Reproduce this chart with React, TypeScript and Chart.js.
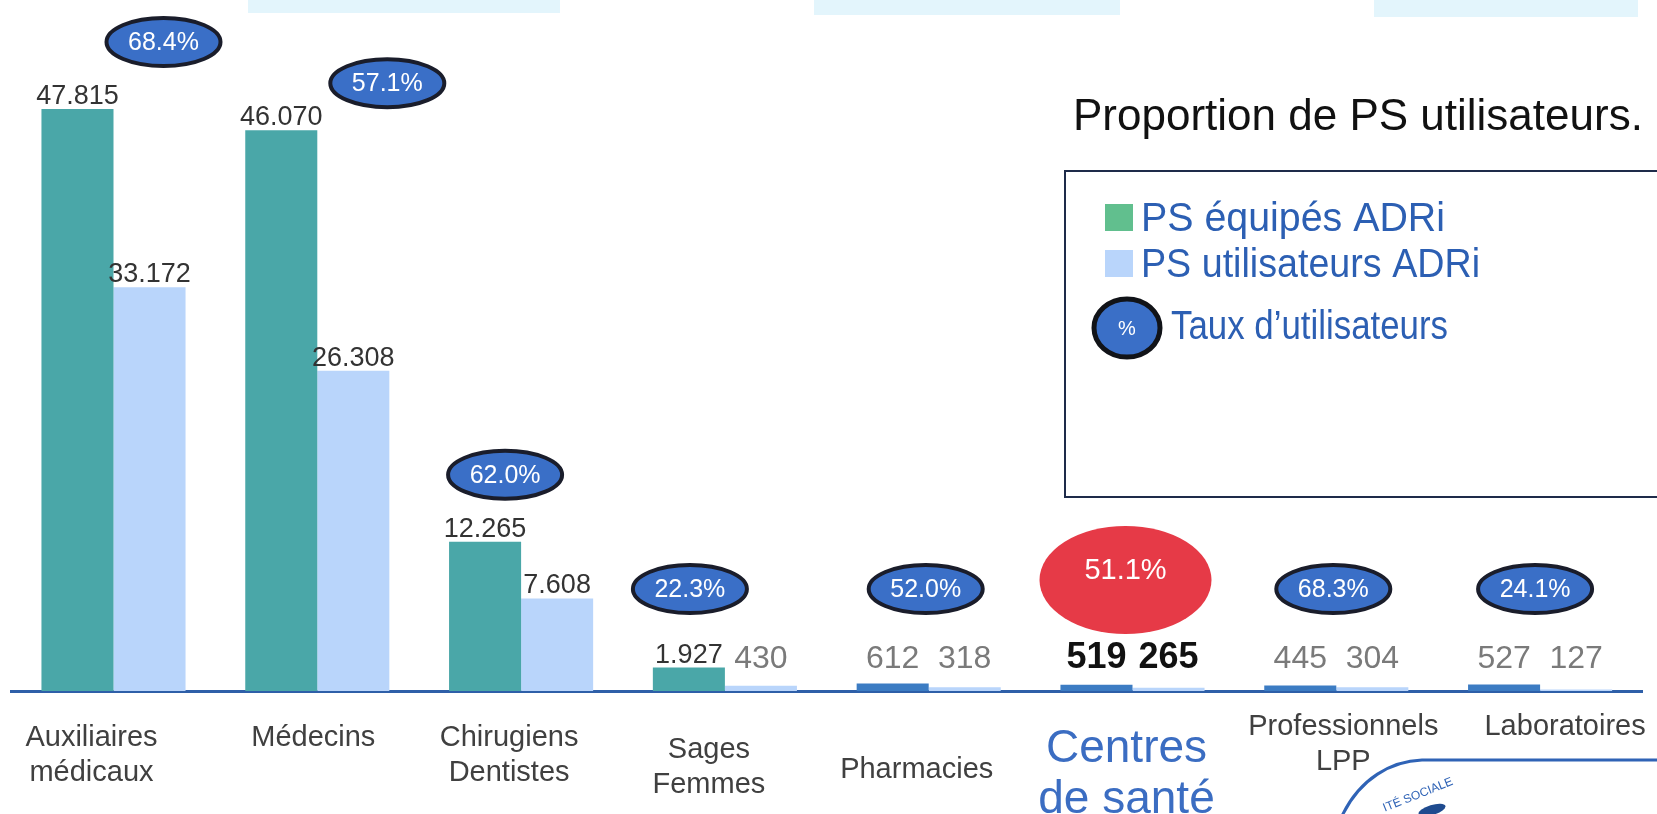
import React, { useEffect, useRef } from 'react';
import { Chart, registerables } from 'chart.js';

Chart.register(...registerables);

// ---------- data ----------
const categories: string[][] = [
  ['Auxiliaires', 'médicaux'],
  ['Médecins'],
  ['Chirugiens', 'Dentistes'],
  ['Sages', 'Femmes'],
  ['Pharmacies'],
  ['Centres', 'de santé'],
  ['Professionnels', 'LPP'],
  ['Laboratoires'],
];
const psEquipes = [47815, 46070, 12265, 1927, 612, 519, 445, 527];
const psUtilisateurs = [33172, 26308, 7608, 430, 318, 265, 304, 127];
const tauxUtilisateurs = [68.4, 57.1, 62.0, 22.3, 52.0, 51.1, 68.3, 24.1];
const seriesLabels = ['PS équipés ADRi', 'PS utilisateurs ADRi'];
const rateLabel = 'Taux d’utilisateurs';
const chartTitle = 'Proportion de PS utilisateurs.';
const highlightIndex = 5;
const yMax = 56770;

// ---------- layout / style ----------
const W = 1657;
const H = 814;
const FONT = '"Liberation Sans", Arial, Helvetica, sans-serif';
const TEAL = '#4aa7a8';
const TEAL_SMALL = '#3c7cc3';
const LIGHT = '#b9d5fb';
const OVAL_FILL = '#3a6fc7';
const OVAL_STROKE = '#1a1d2b';
const LEGEND_TEXT = '#2c5fb3';
// per-category [dx, dy] nudges of the category labels and rate ovals
const labelNudge: number[][] = [[-22, 0], [-4, 0], [-12, 0], [-16, 12], [-12, 32], [-6, 3], [7, -11], [25, -11]];
const ovalNudge: number[][] = [[50, 0], [70, 20], [-16, 0], [-35, 0], [-3, 0], [-7, -9], [-3, 0], [-5, 0]];

const fmt = (v: number) =>
  v >= 1000 ? `${Math.floor(v / 1000)}.${String(v % 1000).padStart(3, '0')}` : String(v);

const annotations = {
  id: 'slideAnnotations',
  beforeDraw(chart: any) {
    const ctx = chart.ctx;
    // faint cyan remnants at the top of the slide
    ctx.save();
    ctx.fillStyle = '#e3f5fc';
    ctx.fillRect(248, 0, 312, 13);
    ctx.fillRect(814, 0, 306, 15);
    ctx.fillRect(1374, 0, 264, 17);
    ctx.restore();
    // nudge category labels
    const xs = chart.scales.x;
    const items = xs.getLabelItems();
    items.forEach((it: any, i: number) => {
      if (it.__nudged) return;
      const n = labelNudge[i] || [0, 0];
      const t = it.options.translation;
      it.options.translation = [t[0] + n[0], t[1] + n[1]];
      it.__nudged = true;
    });
  },
  afterDatasetsDraw(chart: any) {
    const ctx = chart.ctx;
    const xs = chart.scales.x;
    const ys = chart.scales.y;
    const base = ys.getPixelForValue(0);
    const m0 = chart.getDatasetMeta(0);
    const m1 = chart.getDatasetMeta(1);
    ctx.save();
    // value labels
    ctx.textAlign = 'center';
    ctx.textBaseline = 'alphabetic';
    [psEquipes, psUtilisateurs].forEach((arr, d) => {
      const meta = chart.getDatasetMeta(d);
      arr.forEach((v, i) => {
        const bar = meta.data[i];
        const y = Math.min(bar.y - 5, base - 23);
        if (i === highlightIndex) {
          ctx.font = `bold 36px ${FONT}`;
          ctx.fillStyle = '#111111';
        } else if (v < 1000) {
          ctx.font = `32px ${FONT}`;
          ctx.fillStyle = '#7a7a7a';
        } else {
          ctx.font = `27px ${FONT}`;
          ctx.fillStyle = '#333333';
        }
        ctx.fillText(fmt(v), bar.x, y);
      });
    });
    // rate ovals
    tauxUtilisateurs.forEach((r, i) => {
      const top = Math.min(m0.data[i].y, m1.data[i].y);
      const cx = xs.getPixelForValue(i) + ovalNudge[i][0];
      const cy = Math.min(top - 67, base - 102) + ovalNudge[i][1];
      const txt = `${r.toFixed(1)}%`;
      if (i === highlightIndex) {
        ctx.beginPath();
        ctx.ellipse(cx, cy, 86, 54, 0, 0, Math.PI * 2);
        ctx.fillStyle = '#e63a47';
        ctx.fill();
        ctx.fillStyle = '#ffffff';
        ctx.font = `29px ${FONT}`;
        ctx.textBaseline = 'middle';
        ctx.fillText(txt, cx, cy - 9);
      } else {
        ctx.beginPath();
        ctx.ellipse(cx, cy, 57, 24, 0, 0, Math.PI * 2);
        ctx.fillStyle = OVAL_FILL;
        ctx.fill();
        ctx.lineWidth = 4;
        ctx.strokeStyle = OVAL_STROKE;
        ctx.stroke();
        ctx.fillStyle = '#ffffff';
        ctx.font = `25px ${FONT}`;
        ctx.textBaseline = 'middle';
        ctx.fillText(txt, cx, cy + 1);
      }
    });
    ctx.restore();
  },
  afterDraw(chart: any) {
    const ctx = chart.ctx;
    ctx.save();
    // title
    ctx.font = `44px ${FONT}`;
    ctx.fillStyle = '#111111';
    ctx.textAlign = 'left';
    ctx.textBaseline = 'alphabetic';
    ctx.fillText(chartTitle, 1073, 130, 570);
    // legend box
    ctx.lineWidth = 2;
    ctx.strokeStyle = '#1e2b4a';
    ctx.strokeRect(1065, 171, 700, 326);
    ctx.fillStyle = '#61bf8e';
    ctx.fillRect(1105, 204, 28, 27);
    ctx.fillStyle = LIGHT;
    ctx.fillRect(1105, 250, 28, 27);
    ctx.font = `40px ${FONT}`;
    ctx.fillStyle = LEGEND_TEXT;
    ctx.fillText(seriesLabels[0], 1141, 231, 304);
    ctx.fillText(seriesLabels[1], 1141, 277, 339);
    ctx.fillText(rateLabel, 1171, 339, 277);
    ctx.beginPath();
    ctx.ellipse(1127, 328, 33, 29, 0, 0, Math.PI * 2);
    ctx.fillStyle = OVAL_FILL;
    ctx.fill();
    ctx.lineWidth = 5;
    ctx.strokeStyle = '#111318';
    ctx.stroke();
    ctx.fillStyle = '#ffffff';
    ctx.font = `20px ${FONT}`;
    ctx.textAlign = 'center';
    ctx.textBaseline = 'middle';
    ctx.fillText('%', 1127, 329);
    // partial logo bottom-right
    ctx.strokeStyle = '#2f63b6';
    ctx.lineWidth = 3;
    ctx.beginPath();
    ctx.moveTo(1660, 760);
    ctx.lineTo(1422, 760);
    ctx.bezierCurveTo(1392, 761, 1360, 778, 1342, 816);
    ctx.stroke();
    ctx.save();
    ctx.translate(1418, 795);
    ctx.rotate(-0.38);
    ctx.font = `12px ${FONT}`;
    ctx.fillStyle = '#2f63b6';
    ctx.fillText('ITÉ SOCIALE', 0, 0);
    ctx.restore();
    ctx.fillStyle = '#1f4b8f';
    ctx.beginPath();
    ctx.ellipse(1432, 810, 14, 5, -0.3, 0, Math.PI * 2);
    ctx.fill();
    ctx.restore();
  },
};

export default function App() {
  const ref = useRef<HTMLCanvasElement | null>(null);
  useEffect(() => {
    if (!ref.current) return;
    const chart = new Chart(ref.current, {
      type: 'bar',
      data: {
        labels: categories,
        datasets: [
          {
            label: seriesLabels[0],
            data: psEquipes,
            backgroundColor: psEquipes.map((v) => (v < 1000 ? TEAL_SMALL : TEAL)),
            borderWidth: 0,
            categoryPercentage: 0.707,
            barPercentage: 1.0,
          },
          {
            label: seriesLabels[1],
            data: psUtilisateurs,
            backgroundColor: LIGHT,
            borderWidth: 0,
            categoryPercentage: 0.707,
            barPercentage: 1.0,
          },
        ],
      },
      options: {
        responsive: false,
        animation: false,
        devicePixelRatio: 1,
        layout: { padding: { left: 11.6, right: 15, top: 0, bottom: 0 } },
        plugins: {
          legend: { display: false },
          tooltip: { enabled: false },
          title: { display: false },
        },
        scales: {
          x: {
            z: 1,
            grid: { display: false },
            border: { display: true, color: '#2e5fa8', width: 3 },
            afterFit: (scale: any) => {
              scale.height = H - 691;
            },
            ticks: {
              autoSkip: false,
              maxRotation: 0,
              minRotation: 0,
              padding: 22,
              color: (c: any) => (c.index === highlightIndex ? '#3b6dc2' : '#404040'),
              font: (c: any) =>
                c.index === highlightIndex
                  ? { family: FONT, size: 46, lineHeight: 1.11 }
                  : { family: FONT, size: 29, lineHeight: 1.2 },
            },
          },
          y: {
            display: false,
            min: 0,
            max: yMax,
          },
        },
      },
      plugins: [annotations],
    });
    return () => chart.destroy();
  }, []);
  return (
    <div style={{ position: 'fixed', left: 0, top: 0, width: W, height: H, background: '#ffffff' }}>
      <canvas ref={ref} width={W} height={H} style={{ display: 'block', width: W, height: H }} />
    </div>
  );
}
